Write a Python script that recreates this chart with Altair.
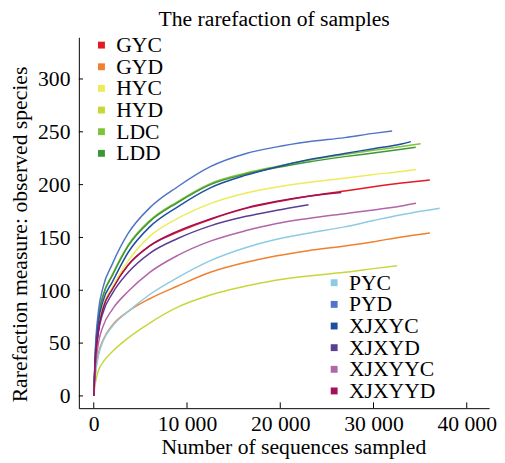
import altair as alt
import pandas as pd

# ---------------- data ----------------
names = ["GYC", "GYD", "HYC", "HYD", "LDC", "LDD",
         "PYC", "PYD", "XJXYC", "XJXYD", "XJXYYC", "XJXYYD"]
colors = ["#e31a23", "#f08030", "#ecec5a", "#c8d63a", "#80c33a", "#3f9635",
          "#8dcbe4", "#4f74c8", "#1f4fa0", "#5a3e96", "#b166a8", "#a1105a"]

x_grid = [0, 150, 500, 1000, 2000, 3700, 6000, 9000, 12500, 16350,
          19500, 23000, 26900, 30000, 33000]

GYC = [0, 30, 62, 83, 102, 124, 142, 155, 167, 177.5, 183.5, 189, 194, 198, 201.5]
GYD = [0, 19, 40, 53, 67, 80, 92, 104, 117, 126.5, 132.5, 137.5, 142, 146, 150.5]
HYC = [0, 32, 66, 85, 103, 128, 151, 168, 182, 192, 197.5, 202, 206, 209.5, 212.5]
HYD = [0, 11, 24, 32, 42, 55, 69, 84, 95.5, 104, 109.5, 113.5, 117, 120.5]
LDC = [0, 36, 74, 95, 115, 143, 166, 184, 201, 211, 217, 223, 228.5, 232.5, 236]
LDD = [0, 36, 74, 95, 114, 142, 165, 183, 200, 210, 216, 221.5, 226.5, 230, 233.5]
PYC = [0, 18, 38, 52, 66, 80, 96, 112, 128, 140.5, 148, 154, 160, 166, 171.5]
PYD = [0, 40, 80, 103, 125, 154, 178, 198, 217, 229.5, 235.5, 240.5, 244.5, 248.5]
XJXYC = [0, 34, 70, 90, 108, 136, 160, 179, 197, 209, 216.5, 223.5, 229.5, 234, 238.5]
XJXYD = [0, 29, 60, 79, 97, 117, 135, 149, 161, 170, 175.5]
XJXYYC = [0, 24, 50, 66, 82, 99, 117, 133, 146.5, 156.5, 163, 168, 172.5, 176, 179.8]
XJXYYD = [0, 30, 62, 83, 101, 124, 142, 156, 167.5, 178, 184, 189]

end_x = [36040, 36040, 34560, 32520, 35050, 34530, 37100, 32000, 34000, 23030, 34560, 26550]
end_y = [204.4, 154.3, 214.3, 123.3, 238.6, 235.4, 177.6, 250.7, 240.7, 181, 182.3, 192.5]

series = [GYC, GYD, HYC, HYD, LDC, LDD, PYC, PYD, XJXYC, XJXYD, XJXYYC, XJXYYD]

x_ticks = [0, 10000, 20000, 30000, 40000]
y_ticks = [0, 50, 100, 150, 200, 250, 300]

X_DOM = [-1600, 42400]
Y_DOM = [-11.6, 339.5]
FONT = "Liberation Serif"

rows = []
for name, ys, ex, ey in zip(names, series, end_x, end_y):
    for xv, yv in zip(x_grid, ys):
        rows.append({"x": xv, "y": yv, "sample": name})
    rows.append({"x": ex, "y": ey, "sample": name})
df = pd.DataFrame(rows)

xs = alt.Scale(domain=X_DOM, nice=False, zero=False)
ys_ = alt.Scale(domain=Y_DOM, nice=False, zero=False)

x_axis = alt.Axis(
    values=x_ticks, ticks=False, grid=False,
    labelExpr="replace(format(datum.value, ',d'), ',', ' ')",
    labelFont=FONT, labelFontSize=22, labelColor="black", labelPadding=6,
    labelFlush=False,
    title="Number of sequences sampled", titleFont=FONT, titleFontSize=22,
    titleFontWeight="normal", titleColor="black",
    titleX=218, titleY=46, titleBaseline="alphabetic", titleAlign="center",
    domainColor="black", domainWidth=1)
y_axis = alt.Axis(
    values=y_ticks, ticks=False, grid=False,
    labelFont=FONT, labelFontSize=22, labelColor="black", labelPadding=9,
    title="Rarefaction measure: observed species", titleFont=FONT, titleFontSize=22,
    titleFontWeight="normal", titleColor="black",
    titleX=-53, titleY=200, titleBaseline="alphabetic", titleAlign="center", titleAngle=-90,
    domainColor="black", domainWidth=1)

x_enc = alt.X("x:Q", scale=xs, axis=x_axis)
y_enc = alt.Y("y:Q", scale=ys_, axis=y_axis)


def make_layers(group_names, group_colors, lx, ly):
    sub = df[df["sample"].isin(group_names)]
    cscale = alt.Scale(domain=group_names, range=group_colors)
    lines = alt.Chart(sub).mark_line(strokeWidth=1.5, interpolate="monotone").encode(
        x=x_enc, y=y_enc,
        color=alt.Color("sample:N", scale=cscale, legend=None),
    )
    keys = alt.Chart(sub).transform_filter("datum.x < -100000").mark_square(
        opacity=1, size=49).encode(
        x=x_enc, y=y_enc,
        color=alt.Color("sample:N", scale=cscale, legend=alt.Legend(
            orient="none", legendX=lx, legendY=ly, title=None,
            symbolType="square", symbolSize=49, symbolStrokeWidth=0,
            labelFont=FONT, labelFontSize=22, labelColor="black", labelOffset=4,
            rowPadding=0, padding=0)),
    )
    return [lines, keys]


la = make_layers(names[:6], colors[:6], 12, -3)
lb = make_layers(names[6:], colors[6:], 248.5, 238.5)

tick_x_df = pd.DataFrame({"t": x_ticks})
tick_y_df = pd.DataFrame({"t": y_ticks})

xticks = alt.Chart(tick_x_df).transform_calculate(
    y0=str(Y_DOM[0]), y1=str(Y_DOM[0] + 5.5)
).mark_rule(color="black", strokeWidth=1).encode(
    x=alt.X("t:Q", scale=xs, axis=x_axis),
    y=alt.Y("y0:Q", scale=ys_, axis=y_axis),
    y2="y1:Q",
)

yticks = alt.Chart(tick_y_df).transform_calculate(
    x0=str(X_DOM[0]), x1=str(X_DOM[0] + 450)
).mark_rule(color="black", strokeWidth=1).encode(
    y=alt.Y("t:Q", scale=ys_, axis=y_axis),
    x=alt.X("x0:Q", scale=xs, axis=x_axis),
    x2="x1:Q",
)

chart = alt.layer(la[0], lb[0], la[1], lb[1], xticks, yticks).resolve_scale(
    color="independent"
).properties(
    width=417, height=377,
    autosize=alt.AutoSizeParams(type="none"),
    padding={"left": 72, "top": 26, "right": 8, "bottom": 52},
    title=alt.TitleParams("The rarefaction of samples", font=FONT, fontSize=22,
                          fontWeight="normal", color="black", anchor="middle",
                          dx=-10, dy=16, offset=2, baseline="alphabetic"),
).configure_view(stroke=None)

chart.save("out.html", embed_options={"renderer": "svg", "actions": False})
